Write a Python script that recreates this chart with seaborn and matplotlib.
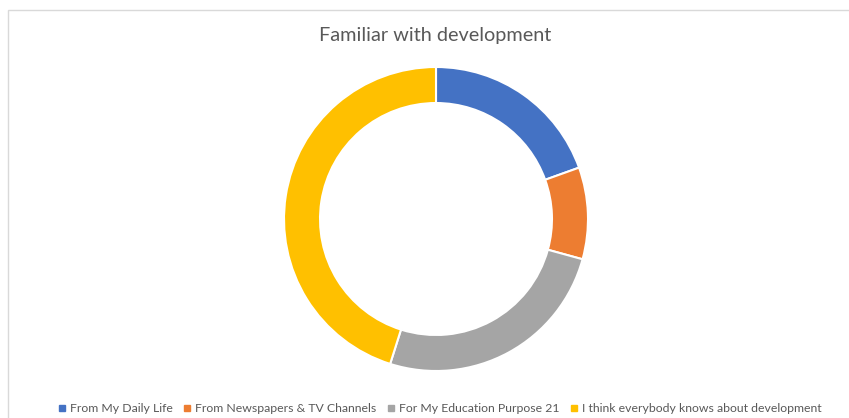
import matplotlib
matplotlib.use("Agg")
import matplotlib.pyplot as plt
from matplotlib.lines import Line2D
from matplotlib.patches import Rectangle
import seaborn as sns

# data
labels = ["From My Daily Life", "From Newspapers & TV Channels",
          "For My Education Purpose 21", "I think everybody knows about development"]
counts = [16, 8, 21, 37]
colors = ["#4472C4", "#ED7D31", "#A5A5A5", "#FFC000"]

sns.set_theme(style="white")
plt.rcParams['font.family'] = ['Lato', 'DejaVu Sans']
palette = sns.color_palette(colors)

fig = plt.figure(figsize=(8.49, 4.18), dpi=100)
fig.patch.set_facecolor("white")

# chart area border (cut off at right/bottom as in the original)
fig.patches.append(Rectangle((8 / 849, -0.1), 1.0, (418 - 10) / 418 + 0.1,
                             transform=fig.transFigure, fill=False,
                             edgecolor="#D9D9D9", linewidth=1.0))

ax = fig.add_axes([(436 - 152) / 849, (418 - 371) / 418, 304 / 849, 304 / 418])
ax.pie(counts, colors=palette, startangle=90, counterclock=False, radius=1.0,
       wedgeprops=dict(width=0.237, edgecolor="white", linewidth=1.5))
ax.set_xlim(-1, 1)
ax.set_ylim(-1, 1)
ax.set_aspect("equal")
ax.axis("off")

fig.text(435 / 849, 1 - 35 / 418, "Familiar with development", ha="center", va="center",
         fontsize=14.3, color="#595959")

handles = [Line2D([0], [0], marker="s", linestyle="", markersize=4.5,
                  markerfacecolor=c, markeredgecolor=c) for c in colors]
fig.legend(handles, labels, loc="center", bbox_to_anchor=(440 / 849, 1 - 409 / 418),
           ncol=4, frameon=False, fontsize=8.8, labelcolor="#595959",
           handlelength=0.6, handletextpad=0.35, columnspacing=0.9, borderpad=0)

fig.savefig("out.png", dpi=100)
